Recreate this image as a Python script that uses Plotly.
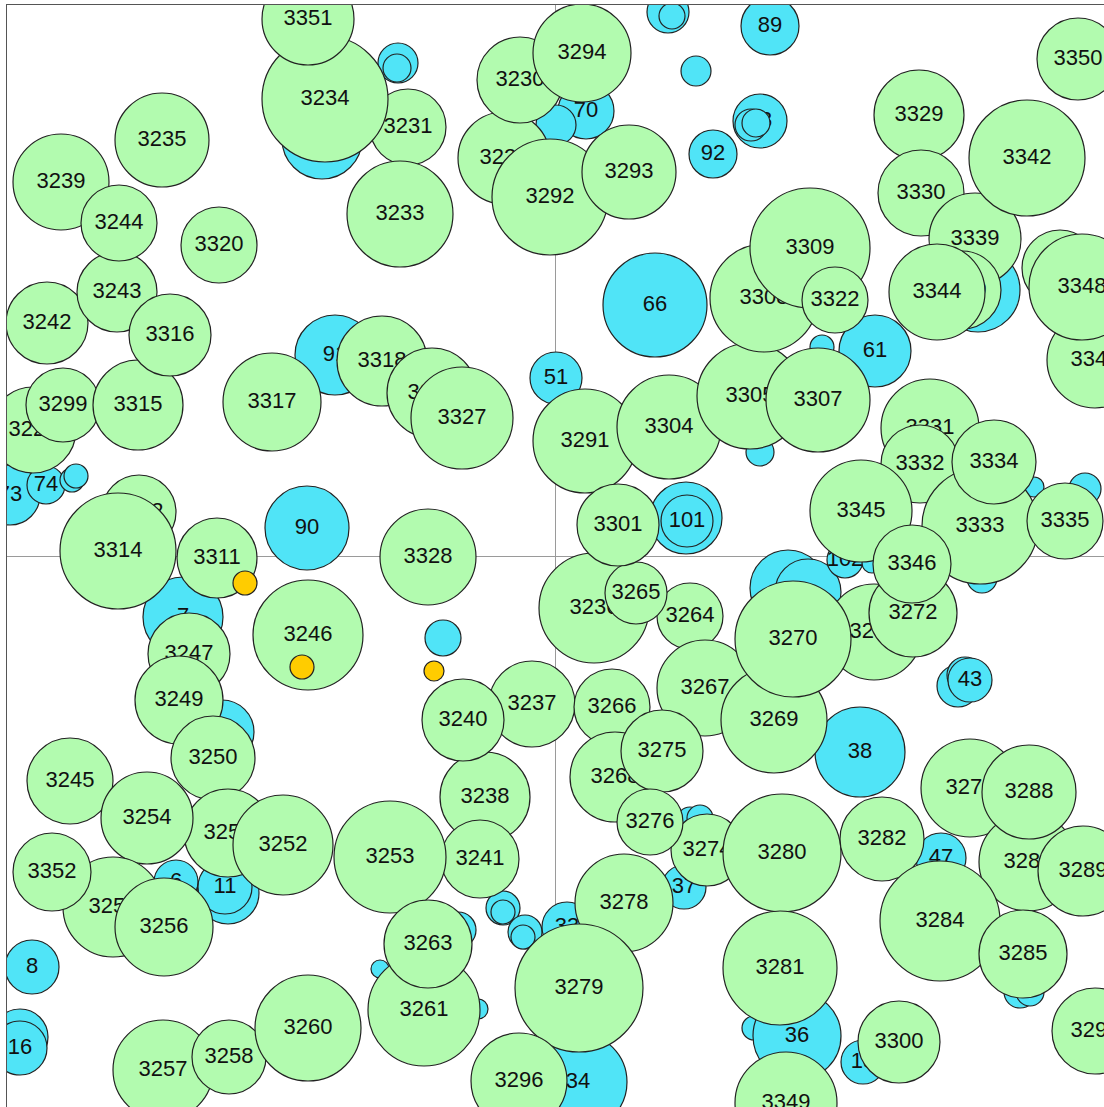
import plotly.graph_objects as go

# ---- blue series (drawn first) ----
blue_labels = ["", "", "89", "", "", "", "", "70", "", "93", "", "", "92", "66", "51", "61", "", "",
               "91", "90", "", "100", "101", "73", "74", "", "", "7", "", "", "6", "", "11", "8", "", "16",
               "", "", "", "", "", "", "33", "", "37", "", "", "", "", "102", "", "", "", "",
               "", "", "43", "38", "47", "", "36", "18", "", "", "34"]
blue_x = [113, 117, 215, 141, -157, -158, -233, 31, 1, 205, 196, 201, 158, 100, 1, 320, 267, 423,
          -220, -248, 205, 131, 132, -545, -509, -483, -479, -372, -112, -333, -379, -327, -330, -523, -535, -535,
          -97, -175, -77, -52, -52, -30, 12, -32, 129, 135, 145, 233, 253, 290, 317, 479, 530, 427,
          403, 410, 415, 305, 386, 199, 242, 308, 465, 475, 23]
blue_y = [544, 540, 530, 485, 493, 488, 417, 445, 431, 435, 431, 433, 402, 251, 178, 205, 209, 266,
          201, 28, 104, 38, 35, 61, 71, 76, 80, -61, -82, -176, -326, -337, -331, -411, -481, -492,
          -374, -413, -453, -352, -356, -376, -371, -381, -331, -264, -262, -32, -36, -4, -7, 69, 67, -22,
          -130, -119, -124, -196, -302, -472, -480, -506, -436, -436, -526]
blue_r = [21, 13, 29, 15, 20, 14, 40, 28, 20, 27, 16, 14, 24, 52, 26, 36, 12, 42,
          40, 42, 14, 36, 26, 30, 19, 12, 12, 40, 18, 32, 22, 31, 27, 27, 28, 27,
          18, 9, 10, 17, 12, 17, 25, 12, 22, 13, 13, 38, 33, 18, 10, 10, 16, 15,
          21, 18, 22, 45, 25, 12, 44, 22, 16, 14, 49]

# ---- green series ----
green_labels = ["3228", "3229", "3230", "3231", "3233", "3234", "3235", "3236", "3237", "3238", "3239",
                "3240", "3241", "3242", "3243", "3244", "3245", "3246", "3247", "3249", "3250", "3251",
                "3252", "3253", "3254", "3255", "3256", "3257", "3258", "3260", "3261", "3262", "3263",
                "3264", "3265", "3266", "3267", "3268", "3269", "3270", "3272", "3273", "3274", "3275",
                "3276", "3278", "3279", "3280", "3281", "3282", "3283", "3284", "3285", "3288", "3289",
                "3291", "3292", "3293", "3294", "3296", "3297", "3299", "3300", "3301", "3304", "3305",
                "3307", "3308", "3309", "3311", "3312", "3314", "3315", "3316", "3317", "3318", "3319",
                "3320", "3322", "3327", "3328", "3329", "3330", "3331", "3332", "3333", "3334", "3335",
                "3339", "3340", "3342", "3343", "3344", "3345", "3346", "3347", "3348", "3349", "3350",
                "3351", "3352"]
green_x = [-51, -522, -35, -147, -155, -230, -393, 39, -23, -70, -494,
           -92, -75, -508, -438, -436, -485, -247, -366, -376, -342, -327,
           -272, -165, -408, -442, -391, -392, -326, -247, -131, 319, -127,
           135, 81, 57, 150, 60, 219, 238, 358, 415, 152, 107,
           95, 69, 24, 227, 225, 327, 473, 385, 468, 474, 528,
           30, -5, 74, 27, -36, 540, -492, 344, 63, 114, 195,
           263, 209, 255, -338, -416, -437, -417, -385, -283, -173, -123,
           -336, 280, -93, -127, 364, 366, 375, 365, 425, 439, 510,
           420, 407, 472, 540, 382, 306, 357, 505, 527, 231, 523,
           -247, -503]
green_y = [398, 126, 476, 429, 342, 457, 416, -52, -148, -241, 374,
           -164, -303, 233, 264, 333, -225, -79, -98, -144, -202, -277,
           -289, -301, -262, -351, -371, -514, -501, -472, -454, -76, -388,
           -60, -37, -151, -132, -221, -164, -83, -57, -232, -294, -195,
           -266, -347, -432, -297, -412, -283, -306, -365, -398, -236, -315,
           115, 359, 384, 503, -525, -475, 151, -486, 31, 129, 160,
           156, 258, 308, -2, 44, 5, 151, 221, 154, 195, 163,
           311, 256, 138, -1, 441, 363, 128, 92, 30, 94, 35,
           317, 266, 398, 196, 264, 45, -8, 288, 269, -547, 497,
           537, -316]
green_r = [46, 43, 43, 38, 53, 63, 47, 55, 43, 45, 48,
           41, 39, 41, 40, 38, 43, 55, 41, 44, 42, 44,
           50, 56, 46, 50, 49, 50, 37, 53, 56, 48, 44,
           33, 31, 38, 48, 45, 53, 58, 44, 49, 36, 41,
           33, 49, 64, 59, 57, 42, 49, 60, 44, 47, 45,
           52, 58, 47, 49, 48, 43, 37, 41, 41, 52, 53,
           52, 54, 60, 40, 37, 58, 45, 41, 49, 45, 45,
           38, 33, 51, 48, 45, 43, 49, 39, 58, 42, 38,
           46, 39, 58, 48, 48, 51, 39, 38, 53, 51, 41,
           46, 39]

# ---- yellow series (drawn last) ----
yellow_x = [-310, -253, -121]
yellow_y = [-27, -111, -115]
yellow_r = [12, 12, 10]

BLUE = "#50e4f7"
GREEN = "#b2fbaf"
YELLOW = "#ffcc00"
EDGE = "#222222"

fig = go.Figure()


def add_series(labels, xs, ys, rs, color):
    for lab, x, y, r in zip(labels, xs, ys, rs):
        fig.add_trace(go.Scatter(
            x=[x], y=[y], mode="markers+text", text=[lab],
            textposition="middle center",
            textfont=dict(family="Liberation Sans, Arial, sans-serif", size=22, color="#111111"),
            marker=dict(size=[r], sizemode="diameter", sizeref=0.5, color=color,
                        line=dict(color=EDGE, width=1.2), opacity=1),
            hoverinfo="skip", showlegend=False,
        ))


add_series(blue_labels, blue_x, blue_y, blue_r, BLUE)
add_series(green_labels, green_x, green_y, green_r, GREEN)
add_series([""] * len(yellow_x), yellow_x, yellow_y, yellow_r, YELLOW)

axis_common = dict(showgrid=False, zeroline=True, zerolinecolor="#9a9a9a", zerolinewidth=1,
                   showticklabels=False, ticks="", showline=True, linecolor="#555555",
                   linewidth=1, mirror=True, fixedrange=True)
fig.update_layout(
    width=1104, height=1107,
    margin=dict(l=7, r=0, t=5, b=0),
    paper_bgcolor="white", plot_bgcolor="white",
    xaxis=dict(range=[-548, 549], **axis_common),
    yaxis=dict(range=[-551, 551], **axis_common),
    showlegend=False,
)

fig.write_html("out.html",
               config={"displayModeBar": False},
               post_script="document.body.style.margin='0';document.body.style.overflow='hidden';")
